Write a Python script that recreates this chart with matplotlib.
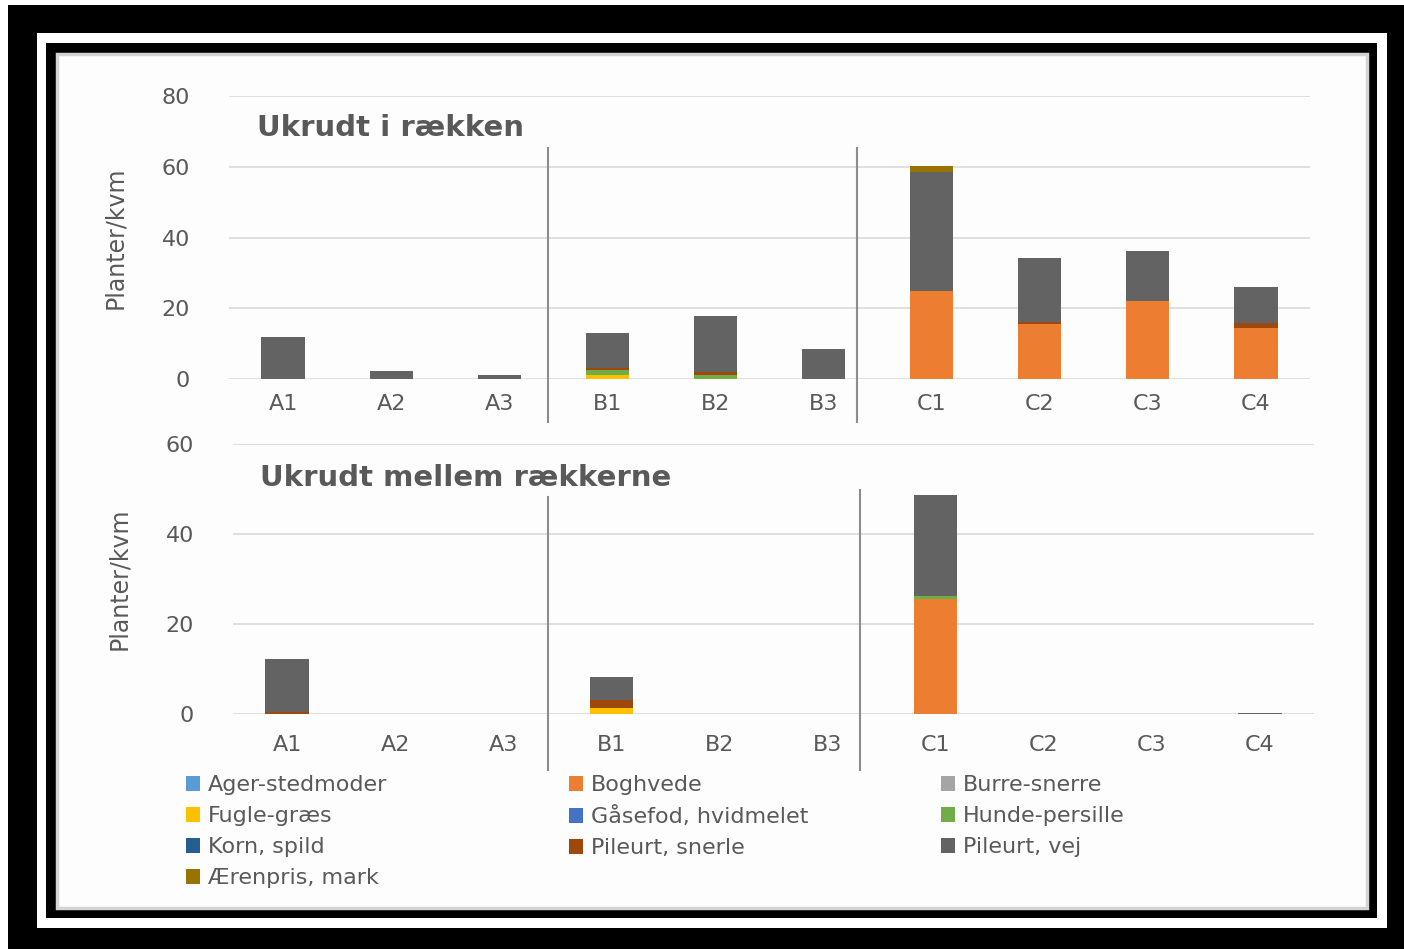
import matplotlib
matplotlib.use("Agg")
import matplotlib.pyplot as plt
from matplotlib.patches import Rectangle
import numpy as np

# data
categories = ['A1', 'A2', 'A3', 'B1', 'B2', 'B3', 'C1', 'C2', 'C3', 'C4']
species = ['Ager-stedmoder', 'Boghvede', 'Burre-snerre', 'Fugle-græs',
           'Gåsefod, hvidmelet', 'Hunde-persille', 'Korn, spild',
           'Pileurt, snerle', 'Pileurt, vej', 'Ærenpris, mark']
colors = ['#5B9BD5', '#ED7D31', '#A5A5A5', '#FFC000', '#4472C4',
          '#70AD47', '#255E91', '#9E480E', '#636363', '#997300']

# Ukrudt i rækken
row_ager = [0, 0, 0, 0, 0, 0, 0, 0, 0, 0]
row_boghvede = [0, 0, 0, 0, 0, 0, 25, 15.5, 22, 14.4]
row_burre = [0, 0, 0, 0, 0, 0, 0, 0, 0, 0]
row_fugle = [0, 0, 0, 1, 0, 0, 0, 0, 0, 0]
row_gasefod = [0, 0, 0, 0, 0, 0, 0, 0, 0, 0]
row_hunde = [0, 0, 0, 1.5, 1, 0, 0, 0, 0, 0]
row_korn = [0, 0, 0, 0, 0, 0, 0, 0, 0, 0]
row_snerle = [0, 0, 0, 0.5, 1, 0, 0, 0.7, 0, 1.5]
row_vej = [11.9, 2.4, 1.1, 10.1, 15.8, 8.4, 33.5, 18, 14.2, 10.1]
row_aerenpris = [0, 0, 0, 0, 0, 0, 1.8, 0, 0, 0]

# Ukrudt mellem rækkerne
mel_ager = [0, 0, 0, 0, 0, 0, 0, 0, 0, 0]
mel_boghvede = [0, 0, 0, 0, 0, 0, 25.5, 0, 0, 0]
mel_burre = [0, 0, 0, 0, 0, 0, 0, 0, 0, 0]
mel_fugle = [0, 0, 0, 1.3, 0, 0, 0, 0, 0, 0]
mel_gasefod = [0, 0, 0, 0, 0, 0, 0, 0, 0, 0]
mel_hunde = [0, 0, 0, 0, 0, 0, 0.8, 0, 0, 0]
mel_korn = [0, 0, 0, 0, 0, 0, 0, 0, 0, 0]
mel_snerle = [0.5, 0, 0, 1.8, 0, 0, 0, 0, 0, 0]
mel_vej = [11.7, 0, 0, 5.1, 0, 0, 22.4, 0, 0, 0.3]
mel_aerenpris = [0, 0, 0, 0, 0, 0, 0, 0, 0, 0]

row_series = [row_ager, row_boghvede, row_burre, row_fugle, row_gasefod,
              row_hunde, row_korn, row_snerle, row_vej, row_aerenpris]
mel_series = [mel_ager, mel_boghvede, mel_burre, mel_fugle, mel_gasefod,
              mel_hunde, mel_korn, mel_snerle, mel_vej, mel_aerenpris]

W, H = 1404, 949
txt = '#595959'
narrow = ['Liberation Sans Narrow', 'DejaVu Sans']


def fx(px):
    return px / W


def fy(py):
    return 1 - py / H


fig = plt.figure(figsize=(W / 100, H / 100), dpi=100, facecolor='white')

# the picture frame
def frame(x0, y0, x1, y1, color, **kw):
    fig.patches.append(Rectangle((fx(x0), fy(y1)), fx(x1) - fx(x0), fy(y0) - fy(y1),
                                 transform=fig.transFigure, facecolor=color,
                                 zorder=-10, **kw))

frame(8, 5, W, H, 'black')
frame(37, 33, 1387, 928, 'white')
frame(46, 43, 1377, 918, 'black')
frame(57, 54, 1367, 908, '#fdfdfd', edgecolor='#d4d4d4', linewidth=2.5)


def draw_panel(ax, series, ymax, title, xpad, dividers):
    x = np.arange(len(categories))
    bottom = np.zeros(len(categories))
    handles = []
    for name, vals, col in zip(species, series, colors):
        h = ax.bar(x, vals, width=0.4, bottom=bottom, color=col, label=name, zorder=3)
        handles.append(h)
        bottom += np.array(vals)
    ax.set_xlim(-0.5, len(categories) - 0.5)
    ax.set_ylim(0, ymax)
    ax.set_yticks(np.arange(0, ymax + 1, 20))
    ax.set_xticks(x)
    ax.set_xticklabels(categories)
    ax.set_facecolor('none')
    for s in ax.spines.values():
        s.set_visible(False)
    ax.grid(axis='y', color='#d9d9d9', linewidth=1.2, zorder=0)
    ax.tick_params(axis='both', length=0, labelsize=16, labelcolor=txt)
    ax.tick_params(axis='x', pad=xpad)
    ax.tick_params(axis='y', pad=28)
    ax.text(0.03, 1.0, title, transform=ax.transAxes, fontsize=21,
            fontweight='bold', color=txt, ha='left', va='center')
    ax.text(-0.105, 0.5, 'Planter/kvm', transform=ax.transAxes, rotation=90,
            ha='center', va='center', fontsize=17, color=txt, family=narrow)
    for dx, y0, y1 in dividers:
        ax.plot([dx, dx], [y0, y1], color='#8c8c8c', linewidth=1.5,
                clip_on=False, zorder=4)
    return handles


ax1 = fig.add_axes([fx(229), fy(379), fx(1081), 283 / H])
ax2 = fig.add_axes([fx(233), fy(714), fx(1081), 270 / H])

handles = draw_panel(ax1, row_series, 80, 'Ukrudt i rækken', 11,
                     [(2.45, -12.2, 65.3), (5.31, -12.2, 65.3)])
ax1.texts[0].set_position((0.026, 1 - (128 - 96) / 283))
draw_panel(ax2, mel_series, 60, 'Ukrudt mellem rækkerne', 15,
           [(2.41, -12.4, 48.2), (5.30, -12.4, 49.8)])
ax2.texts[0].set_position((0.025, 1 - (478 - 444) / 270))

# legend, laid out row by row in three columns
col_x = [186, 569, 941]
for c in range(3):
    idx = list(range(c, len(species), 3))
    fig.legend([handles[i] for i in idx], [species[i] for i in idx],
               loc='upper left', bbox_to_anchor=(fx(col_x[c]), fy(775)),
               frameon=False, fontsize=16, labelcolor=txt,
               handlelength=0.65, handleheight=0.65, handletextpad=0.35,
               labelspacing=0.5, borderpad=0, borderaxespad=0)

fig.savefig('out.png', dpi=100, facecolor=fig.get_facecolor())
